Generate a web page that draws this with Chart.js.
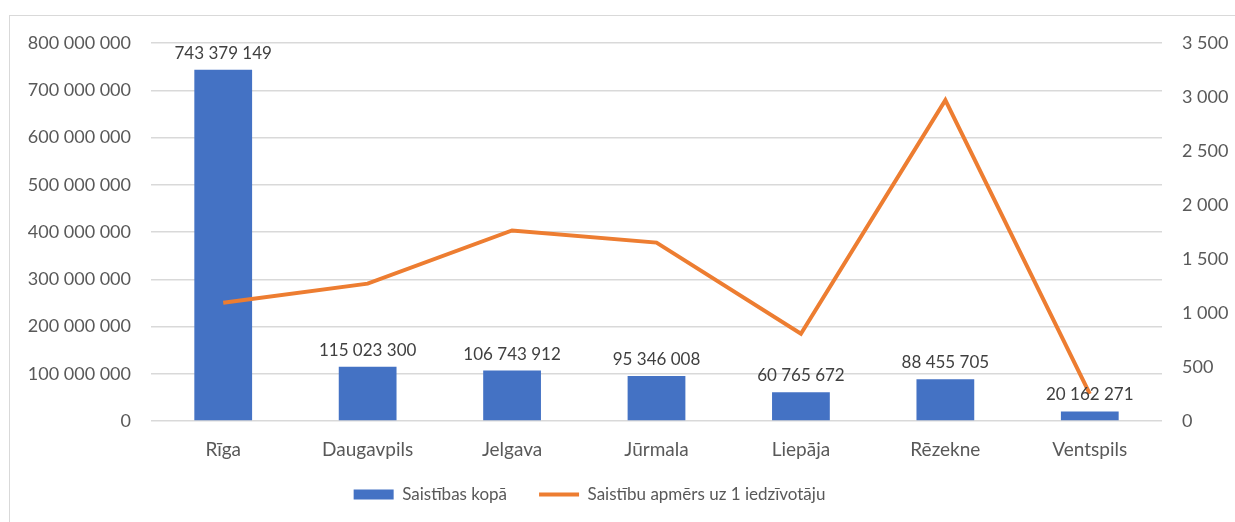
<!DOCTYPE html>
<html>
<head>
  <meta charset="utf-8">
  <title>Saistības</title>
  <script src="https://cdn.jsdelivr.net/npm/chart.js"></script>
  <style>
    body {
      margin: 0;
      background: #ffffff;
      font-family: 'Lato', sans-serif;
    }
    .frame {
      position: absolute;
      left: 9px;
      top: 15px;
      width: 1240px;
      height: 520px;
      border: 1px solid #d9d9d9;
    }
    .chart-wrapper {
      position: absolute;
      left: 0;
      top: 0;
      width: 1235px;
      height: 522px;
    }
  </style>
</head>
<body>
  <div class="frame"></div>
  <div class="chart-wrapper">
    <canvas id="mixChart"></canvas>
  </div>

  <script>
    const cities = ['Rīga', 'Daugavpils', 'Jelgava', 'Jūrmala', 'Liepāja', 'Rēzekne', 'Ventspils'];
    const totalDebt = [743379149, 115023300, 106743912, 95346008, 60765672, 88455705, 20162271];
    const debtPerResident = [1095, 1272, 1764, 1652, 808, 2970, 251];
    const leftTicks = [0, 100000000, 200000000, 300000000, 400000000, 500000000, 600000000, 700000000, 800000000];
    const rightTicks = [0, 500, 1000, 1500, 2000, 2500, 3000, 3500];

    const fmt = v => String(Math.round(v)).replace(/\B(?=(\d{3})+(?!\d))/g, ' ');
    const textColor = '#595959';

    // values above the bars
    const barLabels = {
      id: 'barLabels',
      afterDatasetsDraw(chart) {
        const ctx = chart.ctx;
        const meta = chart.getDatasetMeta(0);
        ctx.save();
        ctx.font = '17px Lato';
        ctx.fillStyle = '#404040';
        ctx.textAlign = 'center';
        ctx.textBaseline = 'bottom';
        meta.data.forEach((bar, i) => {
          ctx.fillText(fmt(totalDebt[i]), bar.x, bar.y - 8);
        });
        ctx.restore();
      }
    };

    // legend sits a little left of the page centre and a bit higher, as in the original
    const legendShift = {
      id: 'legendShift',
      beforeDraw(chart) {
        const lg = chart.legend;
        if (lg && !lg._shifted) {
          lg.left -= 28;
          lg.right -= 28;
          lg.top -= 9;
          lg.bottom -= 9;
          lg._shifted = true;
        }
      }
    };

    new Chart(document.getElementById('mixChart').getContext('2d'), {
      type: 'bar',
      data: {
        labels: cities,
        datasets: [
          {
            label: 'Saistības kopā',
            data: totalDebt,
            backgroundColor: '#4472C4',
            yAxisID: 'y',
            categoryPercentage: 1,
            barPercentage: 0.4,
            order: 1
          },
          {
            type: 'line',
            label: 'Saistību apmērs uz 1 iedzīvotāju',
            data: debtPerResident,
            borderColor: '#ED7D31',
            backgroundColor: '#ED7D31',
            borderWidth: 4,
            pointRadius: 0,
            tension: 0,
            yAxisID: 'y1',
            order: 0
          }
        ]
      },
      options: {
        responsive: true,
        maintainAspectRatio: false,
        animation: false,
        layout: { padding: { left: 0, right: 0, top: 43, bottom: 0 } },
        plugins: {
          tooltip: { enabled: false },
          legend: {
            position: 'bottom',
            labels: {
              color: textColor,
              font: { family: 'Lato', size: 17 },
              usePointStyle: true,
              pointStyleWidth: 40,
              boxHeight: 10,
              padding: 32,
              sort: (a, b) => a.datasetIndex - b.datasetIndex,
              generateLabels(chart) {
                const items = Chart.defaults.plugins.legend.labels.generateLabels(chart);
                items.forEach(it => {
                  if (it.datasetIndex === 0) { it.pointStyle = 'rect'; it.lineWidth = 0; }
                  else { it.pointStyle = 'line'; it.lineWidth = 4; it.strokeStyle = '#ED7D31'; }
                });
                return items;
              }
            }
          }
        },
        scales: {
          x: {
            grid: { display: false },
            border: { display: false },
            ticks: { color: textColor, font: { family: 'Lato', size: 19 }, padding: 9 },
            afterFit(scale) { scale.height = 42; }
          },
          y: {
            position: 'left',
            min: 0,
            max: 800000000,
            afterBuildTicks(scale) { scale.ticks = leftTicks.map(v => ({ value: v })); },
            grid: { color: '#d9d9d9', drawTicks: false, lineWidth: 1.5 },
            border: { display: false },
            ticks: { color: textColor, font: { family: 'Lato', size: 18 }, padding: 20, callback: v => fmt(v) },
            afterFit(scale) { scale.width = 151; }
          },
          y1: {
            position: 'right',
            min: 0,
            max: 3500,
            afterBuildTicks(scale) { scale.ticks = rightTicks.map(v => ({ value: v })); },
            grid: { display: false },
            border: { display: false },
            ticks: { color: textColor, font: { family: 'Lato', size: 18 }, padding: 12, callback: v => fmt(v) },
            afterFit(scale) { scale.width = 73; }
          }
        }
      },
      plugins: [barLabels, legendShift]
    });
  </script>
</body>
</html>
